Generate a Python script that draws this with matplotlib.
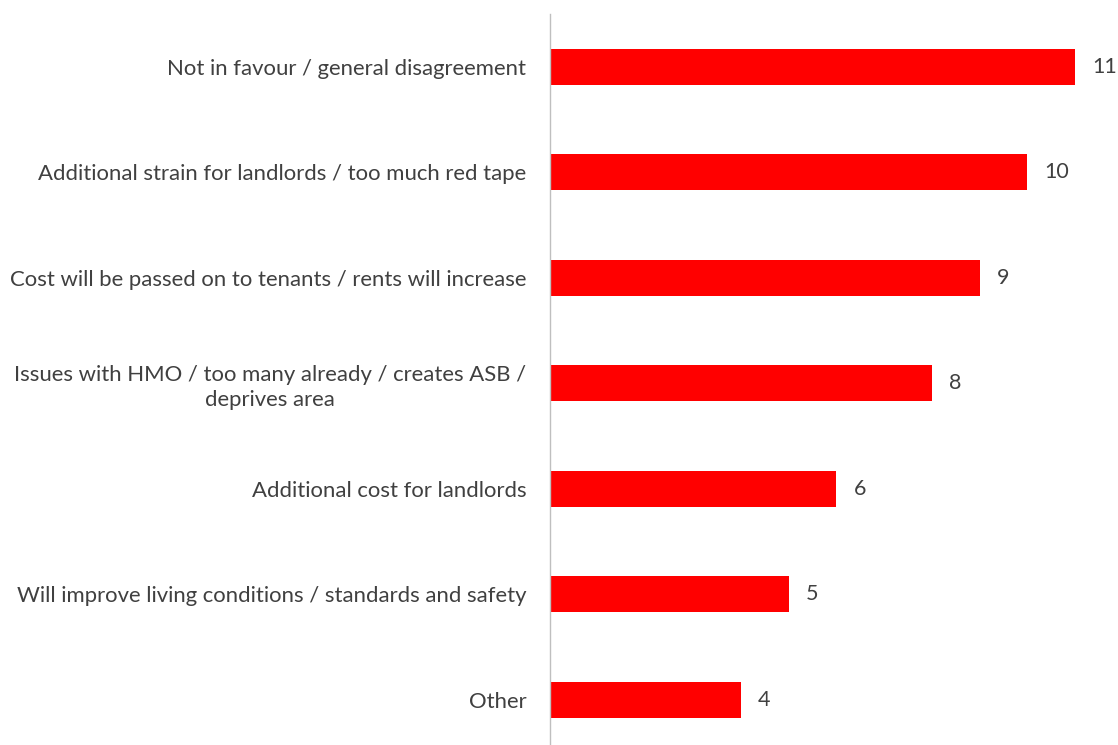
import matplotlib
matplotlib.use("Agg")
import matplotlib.pyplot as plt

categories = [
    "Not in favour / general disagreement",
    "Additional strain for landlords / too much red tape",
    "Cost will be passed on to tenants / rents will increase",
    "Issues with HMO / too many already / creates ASB /\ndeprives area",
    "Additional cost for landlords",
    "Will improve living conditions / standards and safety",
    "Other",
]
counts = [11, 10, 9, 8, 6, 5, 4]

plt.rcParams['font.family'] = ['Lato', 'DejaVu Sans']

fig = plt.figure(figsize=(11.18, 7.45), dpi=100)
ax = fig.add_axes([550 / 1118, -7.5 / 745, 568 / 1118, 738.5 / 745])

y = list(range(len(categories)))
ax.barh(y, counts, height=0.34, color="#FF0000")
for yi, v in zip(y, counts):
    ax.text(v + 0.36, yi, str(v), va="center", ha="left", fontsize=15.5, color="#404040")

ax.set_ylim(len(categories) - 0.5, -0.5)
ax.set_xlim(0, 11.9)
ax.set_yticks(y)
ax.set_yticklabels(categories, fontsize=15.9, color="#404040",
                   multialignment="center", linespacing=1.3)
ax.tick_params(axis="y", length=0, pad=17)
ax.set_xticks([])
for s in ["top", "right", "bottom"]:
    ax.spines[s].set_visible(False)
ax.spines["left"].set_color("#BFBFBF")
ax.spines["left"].set_linewidth(1.0)

fig.savefig("out.png", dpi=100)
